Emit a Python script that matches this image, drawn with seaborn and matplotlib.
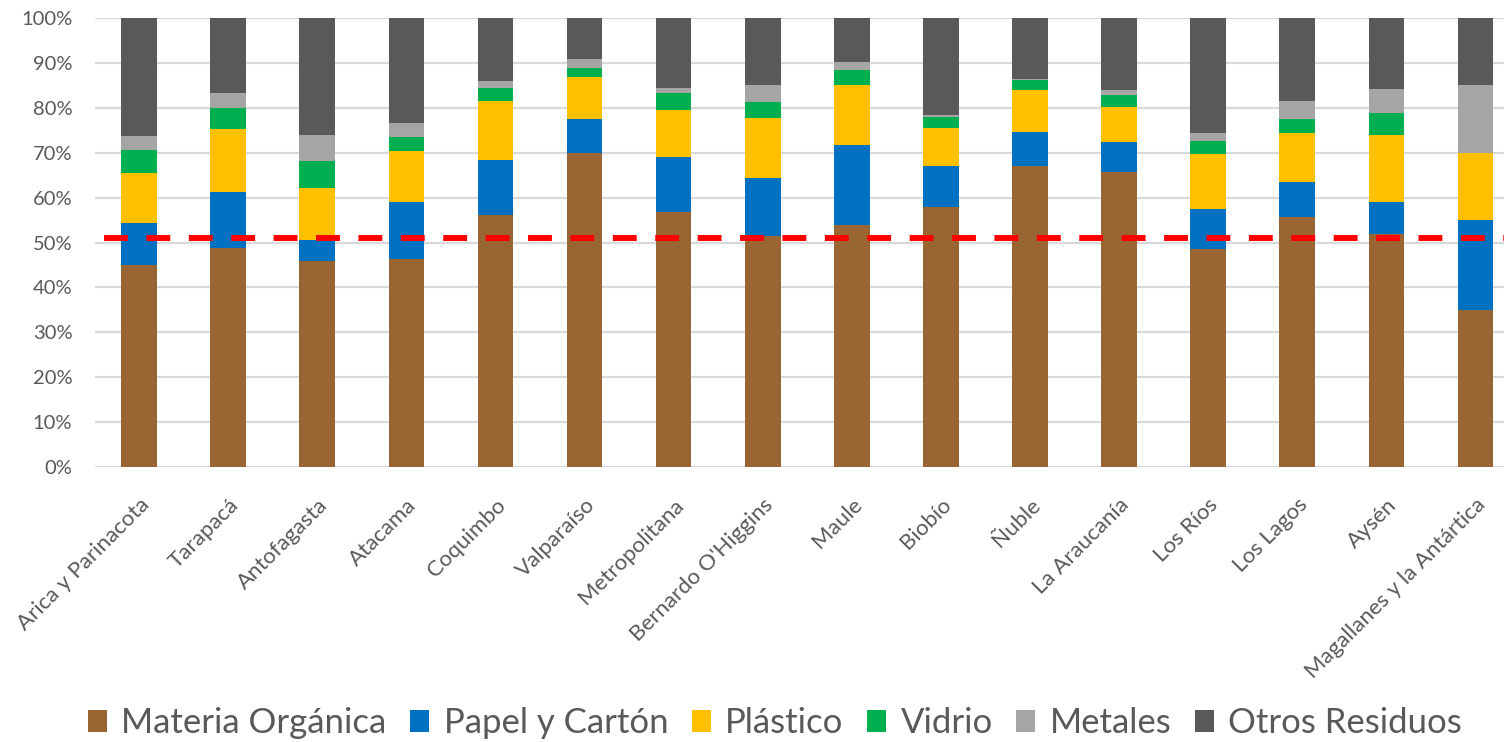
import numpy as np
import pandas as pd
import seaborn as sns
import matplotlib.pyplot as plt
from matplotlib.patches import Patch

# Regions and waste composition (% of total)
regions = ["Arica y Parinacota", "Tarapacá", "Antofagasta", "Atacama", "Coquimbo",
           "Valparaíso", "Metropolitana", "Bernardo O'Higgins", "Maule", "Biobío",
           "Ñuble", "La Araucanía", "Los Ríos", "Los Lagos", "Aysén",
           "Magallanes y la Antártica"]
materia_organica = [44.9, 48.8, 45.9, 46.3, 56.1, 69.9, 56.9, 51.4, 53.8, 57.9, 67.0, 65.6, 48.6, 55.6, 51.8, 35.0]
papel_carton = [9.5, 12.5, 4.7, 12.8, 12.3, 7.7, 12.1, 12.9, 18.0, 9.1, 7.7, 6.8, 8.8, 7.9, 7.3, 19.9]
plastico = [11.1, 14.0, 11.5, 11.3, 13.2, 9.3, 10.4, 13.4, 13.3, 8.6, 9.2, 7.7, 12.4, 10.9, 14.9, 15.1]
vidrio = [5.2, 4.7, 6.1, 3.2, 2.7, 2.0, 3.8, 3.7, 3.4, 2.4, 2.4, 2.8, 2.9, 3.0, 4.9, 0.0]
metales = [3.0, 3.4, 5.8, 3.0, 1.7, 1.9, 1.1, 3.7, 1.6, 0.3, 0.2, 1.1, 1.6, 4.1, 5.2, 15.1]
otros = [26.3, 16.6, 26.0, 23.4, 14.0, 9.2, 15.7, 14.9, 9.9, 21.7, 13.5, 16.0, 25.7, 18.5, 15.9, 14.9]
promedio = 51.0

series = ["Materia Orgánica", "Papel y Cartón", "Plástico", "Vidrio", "Metales", "Otros Residuos"]
colors = ["#996633", "#0070C0", "#FFC000", "#00B050", "#A5A5A5", "#595959"]

df = pd.DataFrame({"Región": regions, series[0]: materia_organica, series[1]: papel_carton,
                   series[2]: plastico, series[3]: vidrio, series[4]: metales, series[5]: otros})
vals = df[series].to_numpy()
cum = np.cumsum(vals, axis=1) / vals.sum(axis=1, keepdims=True)

sns.set_style("white")
plt.rcParams['font.family'] = ['Lato', 'DejaVu Sans']
txt = "#595959"

fig = plt.figure(figsize=(15.04, 7.42), dpi=100)
ax = fig.add_axes([94.5 / 1504, 275 / 742, 1425.5 / 1504, 449 / 742])

# draw cumulative stacks from the top layer down so each layer covers the ones above it
for i in range(len(series) - 1, -1, -1):
    sns.barplot(x=df["Región"], y=cum[:, i], color=colors[i], width=0.4,
                saturation=1, ax=ax, zorder=2, linewidth=0)

n = len(regions)
ax.plot([-0.39, n - 0.6], [promedio / 100, promedio / 100], color="#FF0000",
        lw=4.3, dashes=(4, 3.1), solid_capstyle="butt", dash_capstyle="butt", zorder=3)

ax.set_xlim(-0.5, n - 0.5)
ax.set_ylim(0, 1)
ax.set_yticks(np.arange(0, 1.01, 0.1))
ax.set_yticklabels([f"{int(round(v * 100))}%" for v in np.arange(0, 1.01, 0.1)])
ax.yaxis.grid(True, color="#D9D9D9", lw=1.6, zorder=0)
ax.set_axisbelow(True)
for s in ax.spines.values():
    s.set_visible(False)
ax.set_xlabel("")
ax.set_ylabel("")
ax.tick_params(axis="y", length=0, pad=16, labelsize=14.5, labelcolor=txt)
ax.tick_params(axis="x", length=0, pad=20, labelsize=16, labelcolor=txt)
for lab in ax.get_xticklabels():
    lab.set_rotation(45)
    lab.set_ha("right")
    lab.set_va("top")
    lab.set_rotation_mode("anchor")

handles = [Patch(facecolor=c, edgecolor="none") for c in colors]
fig.legend(handles, series, loc="center", bbox_to_anchor=(775 / 1504, 19 / 742),
           ncol=6, frameon=False, fontsize=25, labelcolor=txt,
           handlelength=0.55, handleheight=0.62, handletextpad=0.42, columnspacing=0.67)

fig.savefig("out.png", dpi=100)
